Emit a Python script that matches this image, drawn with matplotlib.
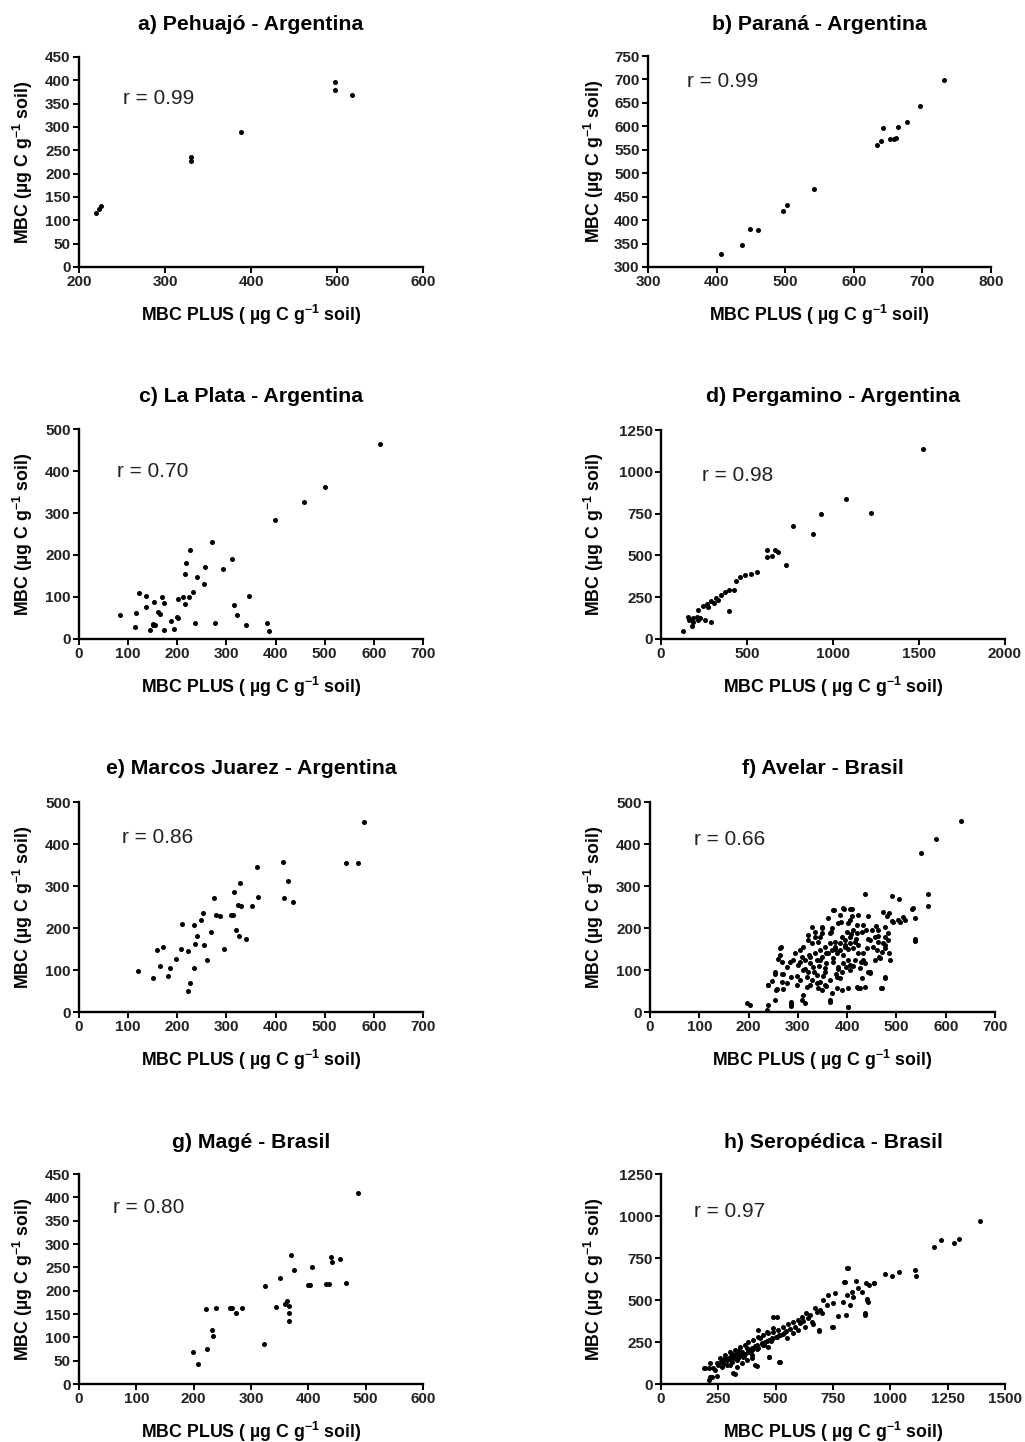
import matplotlib
matplotlib.use("Agg")
import matplotlib.pyplot as plt

plt.rcParams['font.family'] = ['Liberation Sans', 'DejaVu Sans']
plt.rcParams['mathtext.fontset'] = 'custom'
plt.rcParams['mathtext.rm'] = 'Liberation Sans'
plt.rcParams['mathtext.bf'] = 'Liberation Sans:bold'
plt.rcParams['mathtext.default'] = 'bf'

# ---------------- data ----------------
titles = ["a) Pehuajó - Argentina", "b) Paraná - Argentina",
          "c) La Plata - Argentina", "d) Pergamino - Argentina",
          "e) Marcos Juarez - Argentina", "f) Avelar - Brasil",
          "g) Magé - Brasil", "h) Seropédica - Brasil"]
r_values = ["0.99", "0.99", "0.70", "0.98", "0.86", "0.66", "0.80", "0.97"]

a_x = [220, 223, 226, 330, 330, 388, 498, 498, 518]
a_y = [116, 125, 131, 236, 227, 290, 396, 379, 369]

b_x = [406, 437, 449, 461, 497, 503, 542, 634, 640, 642, 653, 658, 661, 664, 677, 697, 731]
b_y = [327, 347, 380, 378, 420, 432, 467, 561, 569, 596, 572, 574, 576, 599, 609, 643, 699]

c_x = [613, 501, 458, 398, 271, 226, 217, 215, 312, 293, 257, 240, 254, 232, 345, 316, 321,
       339, 382, 386, 276, 237, 216, 211, 202, 200, 202, 188, 193, 172, 172, 168, 161, 164,
       153, 151, 150, 145, 136, 136, 123, 116, 113, 84, 154, 223]
c_y = [464, 363, 327, 284, 231, 211, 181, 155, 190, 167, 171, 147, 130, 112, 103, 81, 58,
       33, 38, 19, 39, 39, 83, 101, 95, 52, 49, 42, 23, 21, 86, 99, 64, 60,
       87, 36, 34, 21, 77, 102, 110, 63, 28, 56, 33, 99]

d_x = [1525, 1076, 1219, 930, 766, 884, 725, 616, 616, 643, 663, 682, 556, 523, 488, 459,
       434, 426, 395, 397, 372, 347, 318, 291, 265, 242, 217, 291, 256, 227, 188, 165, 178,
       159, 130, 207, 275, 333, 308, 188, 217]
d_y = [1139, 836, 756, 746, 673, 627, 444, 533, 488, 494, 533, 518, 402, 388, 380, 370,
       348, 295, 169, 291, 279, 263, 245, 229, 211, 195, 175, 100, 115, 125, 125, 111, 80,
       129, 46, 131, 191, 235, 215, 102, 111]

e_x = [579, 544, 568, 416, 362, 426, 435, 418, 365, 352, 328, 316, 323, 330, 310, 314, 320,
       325, 340, 275, 279, 287, 268, 295, 253, 249, 240, 255, 236, 235, 260, 233, 210, 222,
       208, 197, 186, 182, 171, 159, 165, 150, 121, 226, 221]
e_y = [453, 355, 355, 356, 346, 313, 263, 271, 273, 252, 308, 285, 255, 253, 232, 232, 195,
       180, 174, 272, 231, 229, 191, 149, 236, 218, 180, 159, 161, 104, 125, 206, 210, 146,
       149, 127, 104, 85, 155, 148, 110, 82, 97, 70, 51]

f_x = [632, 580, 550, 565, 565, 436, 538, 538, 490, 506, 531, 469, 477, 401, 366, 197, 202,
       237, 240, 239, 247, 286, 314, 264, 260, 253, 255, 267, 373, 393, 409,
       372, 392, 406, 409, 443, 473, 480, 490, 504, 514, 534, 538, 538, 382, 369, 365, 348,
       345, 335, 328, 321, 311, 304, 265, 264, 267, 254, 270, 267, 240, 257, 270, 277, 254,
       287, 287, 311, 308, 294, 291, 301, 311, 304, 321, 331, 338, 345, 341, 348, 365, 369,
       379, 389, 402, 419, 426, 402, 470, 477, 443, 426, 406, 389, 379, 365, 355, 358, 372,
       379, 386, 396, 406, 416, 412, 423, 402, 392, 382, 433, 440, 446, 457, 463, 460, 470,
       477, 483, 483, 477, 463, 450, 433, 419, 402, 399, 389, 375, 365, 355, 345, 335, 325,
       314, 325, 318, 328, 338, 348, 358, 369, 375, 386, 396, 406, 419, 430, 412, 406, 423,
       386, 362, 348, 335, 321, 328, 341, 284, 277, 287, 298, 325, 355, 436, 436, 446, 457,
       467, 487, 484, 494, 477, 484, 464, 447, 430, 423, 477, 518, 508,
       305, 315, 322, 333, 342, 352, 362, 372, 382, 392, 402, 412, 422, 432, 442, 452, 462,
       472, 318, 338, 358, 378, 398, 418, 438, 458, 348, 368, 388, 408, 428, 298, 308, 395,
       405, 415, 385, 375, 355, 345]
f_y = [455, 413, 379, 282, 253, 282, 173, 168, 276, 268, 246, 56, 81, 12, 25, 22, 16,
       4, 17, 64, 74, 20, 22, 153, 127, 91, 52, 91, 242, 246, 245,
       243, 247, 245, 229, 229, 239, 229, 217, 219, 227, 247, 223, 171, 211, 199, 187, 189,
       179, 179, 164, 171, 155, 148, 154, 136, 120, 96, 90, 72, 64, 54, 54, 68, 29,
       25, 14, 40, 29, 140, 124, 112, 100, 76, 96, 108, 88, 72, 56, 52, 29, 45,
       56, 52, 56, 59, 56, 11, 56, 84, 96, 104, 112, 96, 84, 76, 96, 116, 128,
       140, 148, 155, 164, 167, 152, 140, 124, 116, 108, 124, 152, 171, 179, 167, 148, 144,
       160, 171, 187, 203, 195, 195, 207, 207, 211, 191, 179, 167, 164, 155, 148, 140, 132,
       124, 116, 84, 76, 124, 132, 140, 148, 155, 164, 171, 179, 187, 191, 195, 219, 231,
       231, 223, 203, 191, 183, 203, 167, 120, 108, 84, 64, 64, 64, 60, 116, 96, 124,
       128, 124, 235, 215, 179, 140, 132, 92, 80, 56, 152, 219, 215,
       118, 102, 135, 95, 110, 85, 140, 120, 102, 135, 150, 110, 160, 140, 175, 155, 180,
       165, 60, 70, 62, 90, 108, 175, 195, 205, 200, 190, 215, 185, 120, 85, 130, 160,
       100, 125, 80, 150, 105, 125]

g_x = [486, 455, 439, 441, 466, 430, 436, 406, 403, 400, 370, 375, 363, 366, 360, 367, 367,
       350, 344, 325, 322, 284, 274, 267, 264, 239, 221, 232, 233, 224, 198, 207]
g_y = [409, 267, 272, 262, 216, 215, 215, 250, 213, 213, 277, 245, 177, 168, 172, 152, 136,
       227, 166, 211, 86, 163, 152, 163, 163, 163, 160, 116, 102, 76, 68, 43]

h_x = [814, 799, 850, 892, 929, 860, 831, 810, 838, 875, 897, 901, 824, 889, 807, 773, 795,
       759, 730, 751, 722, 708, 693, 679, 701, 744, 690, 664, 632, 613, 599, 577, 628, 555,
       533, 511, 490, 490, 468, 446, 424, 432, 402, 381, 366, 344, 323, 301, 279, 257, 243,
       214, 192, 214, 243, 315, 265, 286, 308, 337, 359, 381, 395, 417, 439, 461, 483, 504,
       519, 541, 562, 584, 606, 620, 642, 650, 519, 472, 417, 395, 374, 352, 330, 301, 272,
       250, 228, 490, 461, 424, 374, 352, 330, 446, 468, 395, 344, 315, 286, 548, 577, 599,
       657, 671, 1392, 1189, 1221, 1276, 1301, 1109, 1112, 1036, 1007, 978, 927, 906, 897,
       888, 749, 688, 506, 470, 513, 411, 222, 208, 186, 237, 321, 208, 811, 804,
       260, 275, 290, 305, 320, 335, 350, 365, 380, 395, 410, 425, 440, 455, 470, 485, 500,
       515, 530, 545, 300, 330, 360, 390, 420, 450, 480, 280, 310, 340]
h_y = [689, 605, 615, 599, 599, 569, 549, 530, 520, 549, 504, 490, 470, 421, 411, 405, 490,
       540, 530, 480, 470, 500, 440, 430, 421, 341, 315, 357, 421, 401, 381, 371, 337, 357,
       341, 321, 401, 311, 302, 292, 321, 272, 262, 252, 232, 222, 202, 192, 173, 153, 123,
       123, 93, 44, 48, 64, 103, 113, 133, 153, 162, 192, 212, 232, 242, 258, 272, 282,
       292, 311, 326, 341, 361, 377, 391, 411, 133, 162, 107, 153, 143, 123, 103, 162, 143,
       113, 93, 331, 311, 278, 212, 192, 182, 232, 222, 173, 173, 153, 143, 272, 302, 321,
       371, 451, 970, 817, 857, 837, 863, 679, 643, 669, 643, 655, 599, 589, 500,
       411, 341, 321, 401, 162, 133, 113, 44, 93, 93, 83, 60, 24, 689, 609,
       130, 120, 150, 140, 170, 160, 190, 180, 205, 200, 225, 215, 240, 250, 260, 265, 280,
       290, 300, 315, 115, 145, 165, 190, 210, 235, 255, 155, 180, 200]

xs = [a_x, b_x, c_x, d_x, e_x, f_x, g_x, h_x]
ys = [a_y, b_y, c_y, d_y, e_y, f_y, g_y, h_y]

x_ticks = [[200, 300, 400, 500, 600], [300, 400, 500, 600, 700, 800],
           [0, 100, 200, 300, 400, 500, 600, 700], [0, 500, 1000, 1500, 2000],
           [0, 100, 200, 300, 400, 500, 600, 700], [0, 100, 200, 300, 400, 500, 600, 700],
           [0, 100, 200, 300, 400, 500, 600], [0, 250, 500, 750, 1000, 1250, 1500]]
y_ticks = [[0, 50, 100, 150, 200, 250, 300, 350, 400, 450],
           [300, 350, 400, 450, 500, 550, 600, 650, 700, 750],
           [0, 100, 200, 300, 400, 500], [0, 250, 500, 750, 1000, 1250],
           [0, 100, 200, 300, 400, 500], [0, 100, 200, 300, 400, 500],
           [0, 50, 100, 150, 200, 250, 300, 350, 400, 450],
           [0, 250, 500, 750, 1000, 1250]]

# ---------------- layout (pixels) ----------------
W, H = 1025, 1442
boxes = [(79, 423, 57, 267), (648, 991, 56, 267),
         (79, 423, 429, 639), (661, 1005, 430, 639),
         (79, 423, 802, 1012), (650, 995, 802, 1012),
         (79, 423, 1174, 1384), (661, 1005, 1174, 1384)]
title_y = [25, 25, 397, 397, 769, 769, 1142, 1142]
r_pos = [(0.128, 0.80), (0.114, 0.88), (0.11, 0.80), (0.12, 0.78),
         (0.125, 0.83), (0.128, 0.82), (0.10, 0.84), (0.096, 0.82)]
ylab_x = [-0.163, -0.157, -0.163, -0.195, -0.163, -0.162, -0.163, -0.195]

fig = plt.figure(figsize=(W / 100, H / 100), dpi=100)
fig.patch.set_facecolor('white')

xlab = 'MBC PLUS ( µg C g$^{-1}$ soil)'
ylab = 'MBC (µg C g$^{-1}$ soil)'

for i in range(8):
    l, r, t, b = boxes[i]
    ax = fig.add_axes([l / W, 1 - b / H, (r - l) / W, (b - t) / H])
    ax.scatter(xs[i], ys[i], s=13, color='black', linewidths=0, zorder=3)
    ax.set_xlim(x_ticks[i][0], x_ticks[i][-1])
    ax.set_ylim(y_ticks[i][0], y_ticks[i][-1])
    ax.set_xticks(x_ticks[i])
    ax.set_yticks(y_ticks[i])
    for s in ['top', 'right']:
        ax.spines[s].set_visible(False)
    for s in ['left', 'bottom']:
        ax.spines[s].set_linewidth(1.7)
    ax.tick_params(axis='both', direction='out', length=4.5, width=1.4,
                   labelsize=11, pad=1.5)
    for lab in ax.get_xticklabels() + ax.get_yticklabels():
        lab.set_fontweight('bold')
        lab.set_color('#222222')
    ax.set_xlabel(xlab, fontsize=12.8, fontweight='bold', va='center')
    ax.xaxis.set_label_coords(0.5, -48 / (b - t))
    ax.set_ylabel(ylab, fontsize=12.8, fontweight='bold', va='center')
    ax.yaxis.set_label_coords(ylab_x[i], 0.5)
    ax.text(r_pos[i][0], r_pos[i][1], 'r = ' + r_values[i], transform=ax.transAxes,
            fontsize=15, va='center', ha='left', color='#222222')
    fig.text((l + r) / 2 / W, 1 - title_y[i] / H, titles[i], ha='center', va='center',
             fontsize=15.3, fontweight='bold')

fig.savefig('out.png', dpi=100, facecolor='white')
